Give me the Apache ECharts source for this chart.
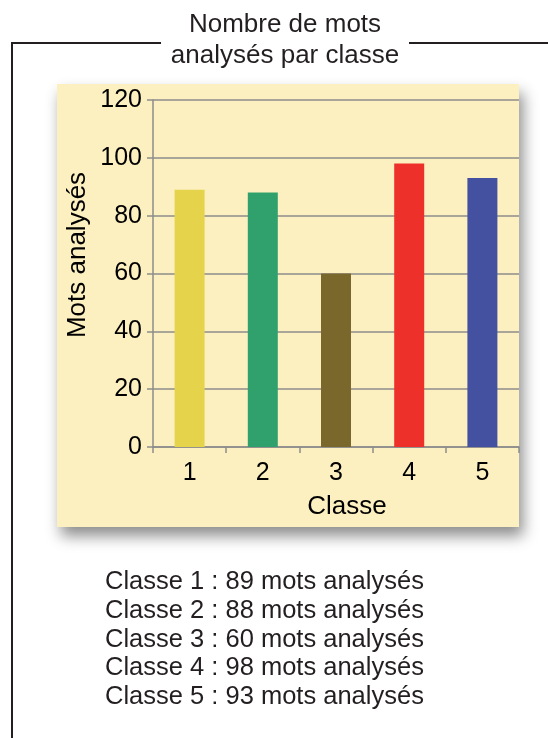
<!DOCTYPE html>
<html>
<head>
<meta charset="utf-8">
<script src="https://cdn.jsdelivr.net/npm/echarts@6/dist/echarts.min.js"></script>
<style>
html,body{margin:0;padding:0;background:#fff;}
#c{width:548px;height:738px;}
</style>
</head>
<body>
<div id="c"></div>
<script>
var categories = ['1', '2', '3', '4', '5'];
var values = [89, 88, 60, 98, 93];
var barColors = ['#e5d44b', '#30a16d', '#7a672b', '#ee302b', '#4450a0'];
var titleLines = ['Nombre de mots', 'analysés par classe'];
var yAxisName = 'Mots analysés';
var xAxisName = 'Classe';
var summaryLines = categories.map(function (c, i) { return 'Classe ' + c + ' : ' + values[i] + ' mots analysés'; });

var FONT = '"Liberation Sans", Arial, Helvetica, sans-serif';
var TXT = '#231f20';
var chart = echarts.init(document.getElementById('c'), null, {renderer: 'canvas'});

var graphics = [
  {type: 'rect', z: -10, shape: {x: 57, y: 84, width: 462, height: 443},
   style: {fill: '#fdf0c0', shadowBlur: 14, shadowOffsetX: 4, shadowOffsetY: 9, shadowColor: 'rgba(0,0,0,0.45)'}},
  {type: 'polyline', shape: {points: [[161, 43], [12, 43], [12, 745]]}, style: {stroke: TXT, lineWidth: 2, fill: null}},
  {type: 'line', shape: {x1: 409, y1: 43, x2: 550, y2: 43}, style: {stroke: TXT, lineWidth: 2}},
  {type: 'text', x: 285, y: 25, style: {text: titleLines[0], font: '26px ' + FONT, fill: TXT, textAlign: 'center', textVerticalAlign: 'middle'}},
  {type: 'text', x: 285, y: 56, style: {text: titleLines[1], font: '26px ' + FONT, fill: TXT, textAlign: 'center', textVerticalAlign: 'middle'}},
  {type: 'text', x: 78, y: 255, rotation: Math.PI / 2, style: {text: yAxisName, font: '26px ' + FONT, fill: '#000', textAlign: 'center', textVerticalAlign: 'middle'}},
  {type: 'text', x: 347, y: 507, style: {text: xAxisName, font: '26px ' + FONT, fill: '#000', textAlign: 'center', textVerticalAlign: 'middle'}}
];
summaryLines.forEach(function (t, i) {
  graphics.push({type: 'text', x: 105, y: 582 + i * 28.75, style: {text: t, font: '25.5px ' + FONT, fill: TXT, textAlign: 'left', textVerticalAlign: 'middle'}});
});

chart.setOption({
  animation: false,
  backgroundColor: '#fff',
  graphic: graphics,
  grid: {left: 153, top: 100, width: 366, height: 347, containLabel: false},
  xAxis: {
    type: 'category', data: categories,
    axisLine: {lineStyle: {color: '#8c8c8c', width: 1.5}},
    axisTick: {show: true, length: 6, lineStyle: {color: '#8c8c8c', width: 1.5}},
    axisLabel: {fontFamily: FONT, fontSize: 25, color: '#000', margin: 14}
  },
  yAxis: {
    type: 'value', min: 0, max: 120, interval: 20,
    axisLine: {show: true, lineStyle: {color: '#8c8c8c', width: 1.5}},
    axisTick: {show: true, length: 6, lineStyle: {color: '#8c8c8c', width: 1.5}},
    axisLabel: {fontFamily: FONT, fontSize: 25, color: '#000', margin: 11},
    splitLine: {show: true, lineStyle: {color: '#8c8c8c', width: 1.5}}
  },
  series: [{
    type: 'bar', data: values.map(function (v, i) { return {value: v, itemStyle: {color: barColors[i]}}; }),
    barWidth: 30
  }]
});
</script>
</body>
</html>
